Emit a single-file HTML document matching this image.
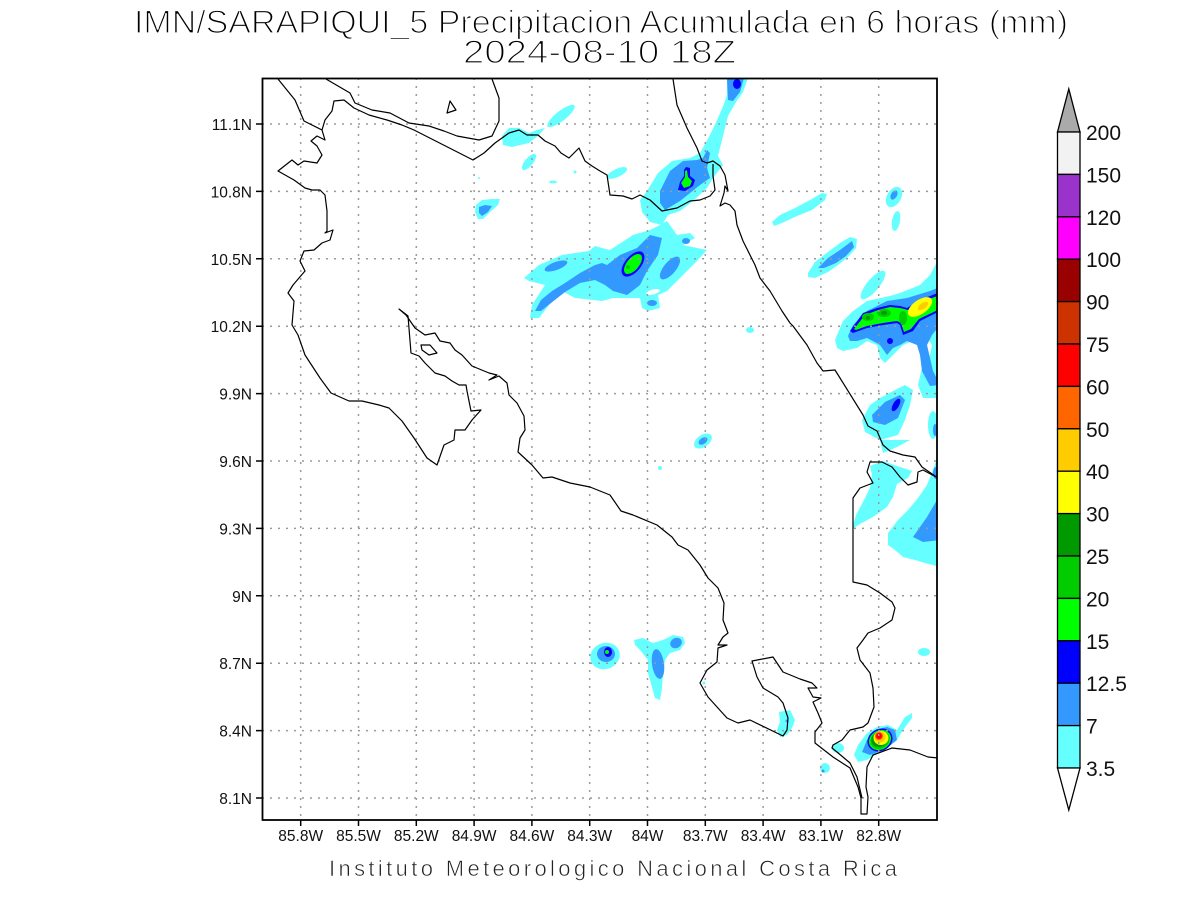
<!DOCTYPE html>
<html><head><meta charset="utf-8"><style>
html,body{margin:0;padding:0;background:#fff;}
svg{display:block;}
text{font-family:"Liberation Sans",sans-serif;}
</style></head><body>
<svg width="1200" height="900" viewBox="0 0 1200 900" xmlns="http://www.w3.org/2000/svg">
<rect x="0" y="0" width="1200" height="900" fill="#fff"/>
<defs><clipPath id="pc"><rect x="262" y="78" width="675" height="742"/></clipPath></defs>
<g clip-path="url(#pc)">
<g fill="#66ffff">
<polygon points="502,136 509,128 519,128 529,133 537,130 545,128 539,135 529,143 512,147 503,145"/>
<ellipse cx="561" cy="116" rx="17" ry="5" transform="rotate(-38 561 116)"/>
<ellipse cx="529" cy="162" rx="10" ry="4" transform="rotate(-50 529 162)"/>
<ellipse cx="553" cy="182" rx="4" ry="1.5"/>
<circle cx="575" cy="172" r="1.5"/><circle cx="479" cy="178" r="1"/>
<polygon points="476,205 482,200 492,199 500,199 498,205 490,212 483,219 478,219 475,212"/>
<polygon points="524,278 539,265 562,255 589,251 595,246 602,248 610,250 633,235 650,230 660,225 667,221 677,235 690,233 695,238 683,245 707,250 697,261 683,275 667,291 658,295 660,308 648,311 642,308 640,298 627,298 613,298 602,301 575,298 562,291 549,305 539,318 530,318 532,305 545,285 529,281"/>
<polygon points="640,200 647,191 658,173 672,161 690,158 700,153 710,135 718,118 724,104 727,95 727,78 748,78 743,92 736,102 728,116 723,136 718,156 723,165 713,178 707,188 693,201 680,211 668,215 662,225 650,222 642,212"/>
<ellipse cx="617" cy="173" rx="11" ry="4" transform="rotate(-25 617 173)"/>
<ellipse cx="750" cy="330" rx="4" ry="3"/>
<ellipse cx="703" cy="441" rx="10" ry="6" transform="rotate(-35 703 441)"/>
<circle cx="660" cy="468" r="2"/>
<polygon points="772,222 780,215 795,208 810,200 822,193 827,194 825,200 812,210 797,216 782,223 774,226"/>
<polygon points="808,273 815,262 828,252 840,243 850,237 857,239 856,248 848,257 838,265 828,272 815,278 808,277"/>
<ellipse cx="873" cy="285" rx="18" ry="6" transform="rotate(-50 873 285)"/>
<ellipse cx="894" cy="197" rx="7" ry="11" transform="rotate(30 894 197)"/>
<ellipse cx="896" cy="221" rx="4" ry="10" transform="rotate(10 896 221)"/>
<polygon points="835,340 843,321 853,311 867,301 890,296 900,293 920,285 930,275 937,262 940,262 940,398 923,398 918,385 922,368 930,355 932,345 927,338 913,341 903,345 893,355 885,363 880,358 877,345 867,341 857,348 843,351 837,348"/>
<polygon points="862,420 870,405 880,398 895,390 905,385 913,390 910,405 905,420 898,435 880,440 865,432"/>
<ellipse cx="933" cy="425" rx="5" ry="14"/>
<polygon points="880,440 883,453 897,447 910,440"/>
<polygon points="852,529 856,515 864,500 870,488 872,475 870,466 883,461 897,466 912,471 908,478 897,484 893,497 887,507 873,517 860,524"/>
<polygon points="888,533 898,520 908,510 918,498 927,485 933,470 937,458 940,458 940,567 925,563 915,560 903,557 895,550 888,545"/>
<ellipse cx="605" cy="656" rx="15" ry="13" transform="rotate(-20 605 656)"/>
<polygon points="634,640 643,638 653,643 663,640 673,635 683,637 685,643 680,650 670,653 665,660 663,673 662,688 660,700 655,698 652,687 648,673 648,660 640,650 635,645"/>
<circle cx="704" cy="683" r="1.5"/>
<polygon points="779,712 790,710 795,720 792,728 787,735 780,737 777,730 780,722"/>
<ellipse cx="838" cy="748" rx="6" ry="5"/>
<ellipse cx="825" cy="768" rx="5" ry="5"/>
<polygon points="854,755 858,745 867,733 877,727 888,725 897,730 905,717 912,713 912,718 903,730 897,740 887,748 875,755 867,760 858,762"/>
<ellipse cx="924" cy="652" rx="6" ry="4"/>
</g>
<ellipse cx="653" cy="292" rx="7" ry="2.5" transform="rotate(-15 653 292)" fill="#fff"/>
<g fill="#3399ff">
<polygon points="479,207 485,205 492,206 488,212 482,216 479,213"/>
<ellipse cx="556" cy="266" rx="12" ry="4" transform="rotate(-20 556 266)"/>
<polygon points="535,311 541,300 552,291 565,283 580,273 595,265 602,263 607,265 620,255 637,248 650,235 662,238 658,255 647,271 640,285 627,295 613,291 605,285 595,280 580,283 565,292 551,303 541,311"/>
<ellipse cx="670" cy="268" rx="14" ry="6" transform="rotate(-50 670 268)"/>
<ellipse cx="686" cy="241" rx="4" ry="3"/>
<ellipse cx="652" cy="303" rx="5" ry="3"/>
<polygon points="660,191 670,171 683,161 697,160 703,158 707,150 710,153 707,168 710,178 700,185 690,193 680,201 665,210 660,203"/>
<polygon points="727,78 744,78 740,92 733,101 728,100"/>
<ellipse cx="703" cy="441" rx="5" ry="3" transform="rotate(-35 703 441)"/>
<polygon points="818,268 828,258 840,250 852,241 854,247 846,256 836,263 824,268"/>
<ellipse cx="894" cy="195" rx="3" ry="5" transform="rotate(30 894 195)"/>
<polygon points="848,336 853,325 867,311 887,301 907,298 930,291 940,287 940,325 932,335 927,345 933,371 940,385 930,386 922,371 920,355 917,345 907,341 900,345 893,348 887,355 880,345 873,341 867,338 857,341 850,341"/>
<polygon points="872,415 885,402 900,395 905,400 898,418 885,425 873,422"/>
<ellipse cx="935" cy="430" rx="2" ry="6"/>
<polygon points="913,537 927,517 937,500 940,500 940,540 923,542"/>
<ellipse cx="936" cy="473" rx="3" ry="6"/>
<ellipse cx="606" cy="654" rx="9" ry="8"/>
<ellipse cx="658" cy="664" rx="6" ry="15" transform="rotate(-8 658 664)"/>
<ellipse cx="676" cy="643" rx="6" ry="5" transform="rotate(-30 676 643)"/>
<circle cx="787" cy="721" r="1.5"/>
<circle cx="823" cy="771" r="1.5"/>
<polygon points="862,752 867,740 875,730 887,727 895,730 897,740 888,747 878,752 870,755"/>
</g>
<g fill="#0000ff">
<ellipse cx="737" cy="84" rx="4" ry="5"/>
<polygon points="686,167 690,168 690,176 695,180 693,186 685,191 678,190 680,182 684,176 684,170"/>
<ellipse cx="633" cy="264" rx="15" ry="8" transform="rotate(-50 633 264)"/>
<polygon points="850,331 863,313 877,308 890,305 900,306 907,308 920,300 940,292 940,311 920,321 913,331 903,335 900,325 897,323 883,325 867,328 853,333"/>
<circle cx="890" cy="341" r="3"/>
<ellipse cx="896" cy="405" rx="3" ry="7" transform="rotate(30 896 405)"/>
<ellipse cx="608" cy="652" rx="4" ry="5"/>
<ellipse cx="880" cy="740" rx="13" ry="11" transform="rotate(-30 880 740)"/>
</g>
<g fill="#00ff00">
<polygon points="687,170 688,177 692,181 690,186 684,188 681,183 685,177 685,171"/>
<ellipse cx="633" cy="264" rx="12" ry="6" transform="rotate(-50 633 264)"/>
<polygon points="854,329 865,315 878,310 890,307 900,308 908,310 921,302 940,295 940,309 919,319 911,329 904,332 901,323 897,321 883,323 867,326 856,330"/>
<circle cx="607" cy="652" r="2"/>
<ellipse cx="880" cy="740" rx="11.5" ry="9.5" transform="rotate(-30 880 740)"/>
</g>
<g fill="#00cc00">
<circle cx="628" cy="267" r="2"/>
<ellipse cx="868" cy="317" rx="6" ry="4"/>
<ellipse cx="884" cy="313" rx="7" ry="4"/>
<ellipse cx="903" cy="318" rx="4" ry="7"/>
<ellipse cx="880" cy="740" rx="10" ry="8.5" transform="rotate(-30 880 740)"/>
</g>
<g fill="#009900">
<ellipse cx="884" cy="313" rx="3" ry="2"/>
<circle cx="868" cy="318" r="2"/>
<ellipse cx="880" cy="739" rx="9" ry="7.5" transform="rotate(-30 880 739)"/>
</g>
<ellipse cx="920" cy="307" rx="14" ry="7" transform="rotate(-35 920 307)" fill="#ffff00"/>
<ellipse cx="923" cy="306" rx="6" ry="3" transform="rotate(-35 923 306)" fill="#ffcc00"/>
<ellipse cx="881" cy="738" rx="7.5" ry="7" fill="#ffff00"/>
<ellipse cx="880" cy="737" rx="5.5" ry="5.5" fill="#ffcc00"/>
<circle cx="879" cy="736" r="4" fill="#ff6600"/>
<circle cx="879" cy="736" r="3" fill="#ff0000"/>
<g stroke="#9a9a9a" stroke-width="1.5" stroke-dasharray="2 6" fill="none">
<path d="M300.7,78V820M358.5,78V820M416.3,78V820M474.1,78V820M531.9,78V820M589.7,78V820M647.5,78V820M705.3,78V820M763.1,78V820M820.9,78V820M878.7,78V820"/>
<path d="M262,798H937M262,730.6H937M262,663.2H937M262,595.8H937M262,528.4H937M262,461H937M262,393.6H937M262,326.2H937M262,258.8H937M262,191.4H937M262,124H937"/>
</g>
<g stroke="#000" stroke-width="1.2" fill="none" stroke-linejoin="round">
<polyline points="278,79 295,100 304,121 322,130 325,140 317,136 311,141 317,146 322,155 317,163 304,161 298,165 292,160 278,171 294,180 305,188 312,190 320,190 325,195 327,211 327,231 325,233 333,230 330,240 322,243 314,250 304,251 300,261 305,271 299,278 293,285 288,293 294,301 292,325 298,335 305,355 320,378 331,393 349,401 362,401 379,405 389,408 402,421 414,438 427,458 437,465 444,445 454,440 455,430 465,430 472,420 481,410 471,411 467,391 466,385 459,385 452,381 445,376 435,373 425,363 419,356 411,353 408,316 399,309 406,315 415,328 425,335 435,333 440,341 450,343 455,350 462,355 472,366 489,373 497,375 489,380 499,376 507,383 509,395 517,403 524,416 525,430 520,438 518,452 532,465 543,478 552,477 570,483 590,487 610,495 621,511 633,515 657,525 672,537 678,545 688,550 700,565 708,578 718,588 724,603 723,620 728,633 723,637 718,645 727,645 718,648 717,662 707,670 700,683 708,697 727,718 738,723 750,720 783,736 787,730 788,718 783,703 778,697 763,688 757,677 752,661 773,657 783,672 800,679 812,683 817,688 808,688 813,697 821,698 813,702 818,713 822,723 815,732 815,743 833,757 850,768 858,787 861,798 861,814 867,814 868,797 866,787 867,767 873,755 892,748 910,750 928,757 938,758"/>
<polyline points="326,79 350,93 355,103 372,110 390,113 409,123 429,126 444,131 457,136 479,140 492,136 499,121 499,98 492,79"/>
<polyline points="322,130 325,120 332,111 334,101 344,100 354,108 369,115 387,120 402,125 414,130 473,160 484,153 495,143 509,133 519,130 527,135 538,135 545,141 555,146 561,153 569,158 579,148 585,161 592,166 600,171 607,175 610,195 623,196 632,199 640,195 650,200 662,211 677,208 690,201 700,200 710,196 715,190 713,176 713,164"/>
<polyline points="673,79 677,105 687,128 697,148 702,161 707,163 713,161 720,166 725,175 728,191 725,186 724,193 720,206 725,203 730,205 735,211 737,225 743,241 755,265 760,278 770,291 782,311 790,323 793,326 807,345 817,363 823,371 835,370 840,378 863,415 868,426 877,431 883,445 890,451 903,455 915,457 922,467 938,478"/>
<polyline points="938,478 923,470 918,472 917,482 908,485 900,477 892,467 882,462 870,462 867,472 873,483 860,488 853,498 853,582 867,585 880,593 892,602 895,608 892,620 880,628 868,633 863,640 857,648 860,660 870,673 873,688 874,707 868,723 863,727 850,730 842,740 833,745 832,748 837,752 850,763 857,777 862,798"/>
<polygon points="447,113 450,101 456,110"/>
<polygon points="421,345 430,345 437,353 429,355 422,350"/>
</g>
</g>
<rect x="262.5" y="78.5" width="674.5" height="741.5" fill="none" stroke="#000" stroke-width="1.8"/>
<g stroke="#000" stroke-width="1.5">
<path d="M300.7,820V826M358.5,820V826M416.3,820V826M474.1,820V826M531.9,820V826M589.7,820V826M647.5,820V826M705.3,820V826M763.1,820V826M820.9,820V826M878.7,820V826"/>
<path d="M256,798H262M256,730.6H262M256,663.2H262M256,595.8H262M256,528.4H262M256,461H262M256,393.6H262M256,326.2H262M256,258.8H262M256,191.4H262M256,124H262"/>
</g>
<g font-size="15.5" fill="#111" text-anchor="middle">
<text x="300.7" y="841">85.8W</text><text x="358.5" y="841">85.5W</text><text x="416.3" y="841">85.2W</text><text x="474.1" y="841">84.9W</text><text x="531.9" y="841">84.6W</text><text x="589.7" y="841">84.3W</text><text x="647.5" y="841">84W</text><text x="705.3" y="841">83.7W</text><text x="763.1" y="841">83.4W</text><text x="820.9" y="841">83.1W</text><text x="878.7" y="841">82.8W</text>
</g>
<g font-size="15.5" fill="#111" text-anchor="end">
<text x="252" y="804">8.1N</text><text x="252" y="736.6">8.4N</text><text x="252" y="669.2">8.7N</text><text x="252" y="601.8">9N</text><text x="252" y="534.4">9.3N</text><text x="252" y="467">9.6N</text><text x="252" y="399.6">9.9N</text><text x="252" y="332.2">10.2N</text><text x="252" y="264.8">10.5N</text><text x="252" y="197.4">10.8N</text><text x="252" y="130">11.1N</text>
</g>
<g stroke="#000" stroke-width="1.3">
<polygon points="1057.5,132 1068.8,89 1080,132" fill="#aaaaaa"/>
<rect x="1057.5" y="132" width="22.5" height="42.4" fill="#f2f2f2"/>
<rect x="1057.5" y="174.4" width="22.5" height="42.4" fill="#9933cc"/>
<rect x="1057.5" y="216.8" width="22.5" height="42.4" fill="#ff00ff"/>
<rect x="1057.5" y="259.2" width="22.5" height="42.4" fill="#990000"/>
<rect x="1057.5" y="301.6" width="22.5" height="42.4" fill="#cc3300"/>
<rect x="1057.5" y="344" width="22.5" height="42.4" fill="#ff0000"/>
<rect x="1057.5" y="386.4" width="22.5" height="42.4" fill="#ff6600"/>
<rect x="1057.5" y="428.8" width="22.5" height="42.4" fill="#ffcc00"/>
<rect x="1057.5" y="471.2" width="22.5" height="42.4" fill="#ffff00"/>
<rect x="1057.5" y="513.6" width="22.5" height="42.4" fill="#009900"/>
<rect x="1057.5" y="556" width="22.5" height="42.4" fill="#00cc00"/>
<rect x="1057.5" y="598.4" width="22.5" height="42.4" fill="#00ff00"/>
<rect x="1057.5" y="640.8" width="22.5" height="42.4" fill="#0000ff"/>
<rect x="1057.5" y="683.2" width="22.5" height="42.4" fill="#3399ff"/>
<rect x="1057.5" y="725.6" width="22.5" height="42.4" fill="#66ffff"/>
<polygon points="1057.5,768 1068.8,810 1080,768" fill="#fff"/>
</g>
<g font-size="21" fill="#111">
<text x="1086" y="140">200</text><text x="1086" y="182.4">150</text><text x="1086" y="224.8">120</text><text x="1086" y="267.2">100</text><text x="1086" y="309.6">90</text><text x="1086" y="352">75</text><text x="1086" y="394.4">60</text><text x="1086" y="436.8">50</text><text x="1086" y="479.2">40</text><text x="1086" y="521.6">30</text><text x="1086" y="564">25</text><text x="1086" y="606.4">20</text><text x="1086" y="648.8">15</text><text x="1086" y="691.2">12.5</text><text x="1086" y="733.6">7</text><text x="1086" y="776">3.5</text>
</g>
<g fill="#000" stroke="#fff" stroke-width="1.3">
<text x="134" y="33" font-size="32" textLength="934" lengthAdjust="spacingAndGlyphs">IMN/SARAPIQUI_5 Precipitacion Acumulada en 6 horas (mm)</text>
<text x="463" y="63" font-size="32" textLength="273" lengthAdjust="spacingAndGlyphs">2024-08-10 18Z</text>
</g>
<text x="329" y="876" font-size="22" fill="#222" stroke="#fff" stroke-width="0.6" textLength="568" lengthAdjust="spacing">Instituto Meteorologico Nacional Costa Rica</text>
</svg>
</body></html>
